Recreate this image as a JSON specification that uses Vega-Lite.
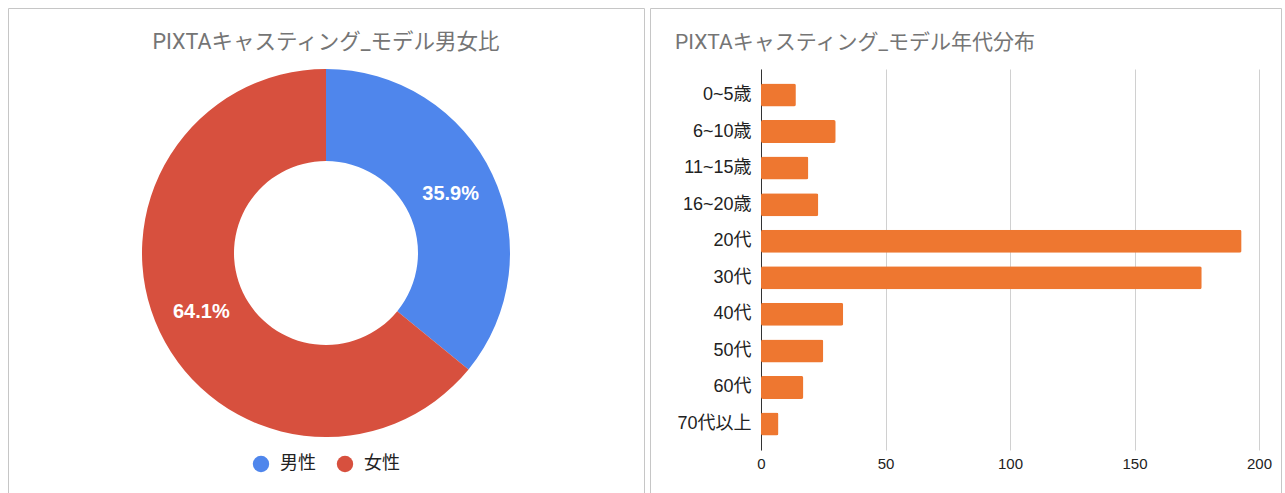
{
  "$schema": "https://vega.github.io/schema/vega-lite/v6.json",
  "background": "white",
  "padding": {"left": 7, "top": 7, "right": 0, "bottom": 0},
  "spacing": 4,
  "config": {
    "view": {"stroke": "#c6c6c6", "strokeWidth": 1},
    "font": "Liberation Sans, Noto Sans CJK JP"
  },
  "hconcat": [
    {
      "width": 636,
      "height": 490,
      "view": {"stroke": "#c6c6c6", "strokeWidth": 1},
      "title": {"text": "PIXTAキャスティング_モデル男女比", "anchor": "middle", "offset": -45, "fontSize": 21.5, "font": "Roboto, Noto Sans CJK JP", "fontWeight": "normal", "color": "#757575"},
      "data": {"values": [
        {"gender": "男性", "pct": 35.9, "label": "35.9%", "idx": 0},
        {"gender": "女性", "pct": 64.1, "label": "64.1%", "idx": 1}
      ]},
      "encoding": {
        "theta": {"field": "pct", "type": "quantitative", "stack": true},
        "order": {"field": "idx", "type": "quantitative"},
        "color": {
          "field": "gender", "type": "nominal",
          "scale": {"domain": ["男性", "女性"], "range": ["#4F86EC", "#D7503E"]},
          "legend": {"orient": "none", "legendX": 244, "legendY": 447, "direction": "horizontal", "title": null, "symbolType": "circle", "symbolSize": 270, "symbolStrokeWidth": 0, "labelFontSize": 18, "labelColor": "#222222", "labelFont": "Noto Sans CJK JP", "columnPadding": 20, "labelOffset": 10}
        }
      },
      "layer": [
        {"mark": {"type": "arc", "outerRadius": 184, "innerRadius": 92}},
        {"mark": {"type": "text", "radius": 138, "fontSize": 20, "fontWeight": "bold", "fill": "white", "font": "Liberation Sans"},
         "encoding": {"text": {"field": "label", "type": "nominal"}, "color": {"value": "white"}}}
      ]
    },
    {
      "width": 631,
      "height": 503,
      "title": {"text": "PIXTAキャスティング_モデル年代分布", "anchor": "start", "dx": 25, "offset": -45, "fontSize": 21, "font": "Roboto, Noto Sans CJK JP", "fontWeight": "normal", "color": "#757575"},
      "data": {"values": [
        {"age": "0~5歳", "count": 14},
        {"age": "6~10歳", "count": 30},
        {"age": "11~15歳", "count": 19},
        {"age": "16~20歳", "count": 23},
        {"age": "20代", "count": 193},
        {"age": "30代", "count": 177},
        {"age": "40代", "count": 33},
        {"age": "50代", "count": 25},
        {"age": "60代", "count": 17},
        {"age": "70代以上", "count": 7}
      ]},
      "mark": {"type": "bar", "color": "#EE7730", "cornerRadius": 2},
      "encoding": {
        "y": {
          "field": "age", "type": "nominal", "sort": null,
          "scale": {"range": [61, 442], "paddingInner": 0.37, "paddingOuter": 0.396},
          "axis": {"title": null, "orient": "left", "offset": -111, "domainColor": "#333333", "domainWidth": 1, "ticks": false, "grid": false, "labelPadding": 10, "labelFontSize": 18, "labelColor": "#222222"}
        },
        "x": {
          "field": "count", "type": "quantitative",
          "scale": {"domain": [0, 200], "range": [111, 609], "nice": false},
          "axis": {"title": null, "values": [0, 50, 100, 150, 200], "offset": -61, "domain": false, "ticks": false, "labelFlush": false, "labelPadding": 6, "grid": true, "gridColor": "#d0d0d0", "labelFontSize": 15, "labelColor": "#222222"}
        }
      }
    }
  ]
}
